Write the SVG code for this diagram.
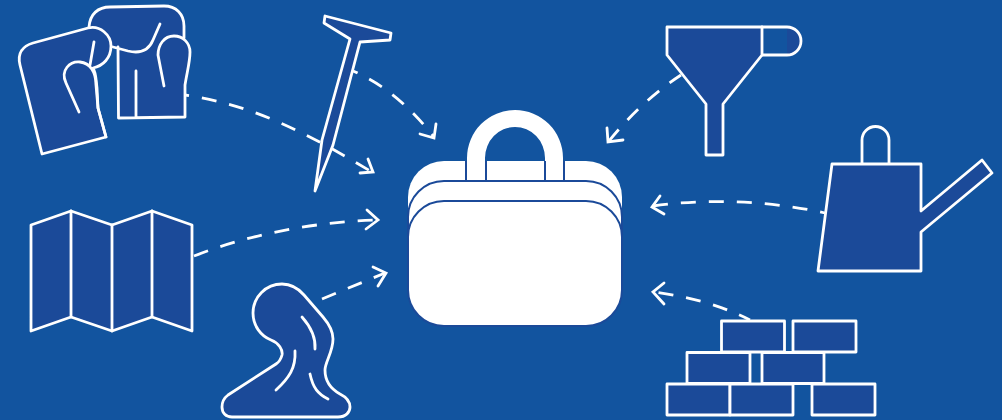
<svg xmlns="http://www.w3.org/2000/svg" width="1002" height="420" viewBox="0 0 1002 420">
<style>
.n{fill:#1b4a99;stroke:#fff;stroke-width:2.8;stroke-linejoin:round;stroke-linecap:round}
.f{fill:#1b4a99;stroke:none}
.l{fill:none;stroke:#fff;stroke-width:2.8;stroke-linejoin:round;stroke-linecap:round}
.c{fill:none;stroke:#fff;stroke-width:2.8;stroke-dasharray:15 13}
.a{fill:none;stroke:#fff;stroke-width:2.8;stroke-linecap:round;stroke-linejoin:miter}
.b{fill:#fff;stroke:#1b4a99;stroke-width:2}
.h{fill:none;stroke:#1b4a99;stroke-width:2}
</style>
<rect width="1002" height="420" fill="#12549f"/>
<g id="connectors">
<path class="c" stroke-dashoffset="11" d="M185 95C255 105 310 135 372 172"/><path class="a" d="M360 173L373 172L368 159"/>
<path class="c" stroke-dashoffset="10" d="M353 71C385 85 410 107 434 137"/><path class="a" d="M420 134L434 138L436 124"/>
<path class="c" d="M194 256C250 234 315 222 377 220"/><path class="a" d="M367 210L378 220L366 229"/>
<path class="c" d="M322 299L385 273"/><path class="a" d="M373 267L386 273L378 286"/>
<path class="c" stroke-dashoffset="1" d="M681 75C655 92 630 115 609 141"/><path class="a" d="M607 128L608 142L623 140"/>
<path class="c" stroke-dashoffset="10" d="M825 213C770 201 710 198 653 206"/><path class="a" d="M660 196L652 207L664 214"/>
<path class="c" stroke-dashoffset="3" d="M750 320C720 305 690 297 654 292"/><path class="a" d="M664 283L653 292L664 304"/>
</g>
<g id="gloves">
<path class="f" d="M89 27C90 14 98 7 110 7L164 6C176 6 184 14 184 26V40L190 52L185 85V117L118 118V47L89 40Z"/>
<path class="l" d="M89 27C90 14 98 7 110 7L164 6C176 6 184 14 184 26V38M113 47L128 51C141 54 149 50 153 40L160 24M118 47L118.500 118L185 117L185 85C187 72 190 62 190 52C190 43 183 36 174 36C164 36 158 45 158 55L164 86M136 71L136 117"/>
<path class="n" d="M42 154L20 65C17 53 23 46 33 43L88 28C100 25 111 35 111 46C111 58 103 66 93 68C96 72 96 80 97 88L98 108L106 137Z"/>
<path class="l" d="M94 42L90 65M79 112L66 83C60 70 70 61 80 62C90 63 96 72 96 85L98 108L106 137"/>
</g>
<g id="nail">
<path class="n" d="M325 16L391 33L390 40L360 42L333 145L315 191L322 140L350 39L324 23Z"/>
</g>
<g id="map">
<path class="n" d="M31 225L71 211L112 225L152 211L192 225L192 331L152 317L112 331L71 317L31 331Z"/>
<path class="l" d="M71 211V317M112 225V331M152 211V317"/>
</g>
<g id="blob">
<path class="n" d="M232 417L338 417C346 417 350 412 350 407C350 401 346 397 340 394C331 389 325 381 325 370C325 362 333 352 333 339C333 331 329 324 323 317L304 295C298 288 291 284 282 284C266 284 253 297 253 313C253 326 261 336 271 340C279 343 283 350 282 355C281 359 279 362 276 364L228 395C224 398 222 402 222 407C222 413 226 417 232 417Z"/>
<path class="l" d="M302 317C310 326 316 336 315 349M295 351C296 368 289 378 276 390M310 374C313 388 318 394 328 399"/>
</g>
<g id="bag">
<path d="M444 161H586A36 36 0 0 1 622 197V262H408V197A36 36 0 0 1 444 161Z" fill="#fff"/>
<path d="M467 181V158A48 48 0 0 1 563 158V181H545V158A30 31 0 0 0 485 158V181Z" fill="#fff"/>
<path class="h" d="M466 161V181M486 161V181M545 161V181M564 161V181"/>
<path class="b" d="M444 181H586A36 36 0 0 1 622 217V282A36 36 0 0 1 586 318H444A36 36 0 0 1 408 282V217A36 36 0 0 1 444 181Z"/>
<path class="b" d="M444 201H586A36 36 0 0 1 622 237V290A36 36 0 0 1 586 326H444A36 36 0 0 1 408 290V237A36 36 0 0 1 444 201Z"/>
</g>
<g id="funnel">
<path class="f" d="M787 27A14 14 0 0 1 787 55Z"/>
<path class="l" d="M762 27H787A14 14 0 0 1 787 55H762"/>
<path class="n" d="M667 27H762V55L723 104V155H706V104L667 55Z"/>
</g>
<g id="can">
<path class="l" d="M862 164V140A13.500 13.500 0 0 1 889 140V164"/>
<path class="n" d="M832 164H921V211L982 160L992 173L921 232V271H818Z"/>
</g>
<g id="bricks">
<rect class="n" x="721.500" y="321" width="63" height="31"/>
<rect class="n" x="793" y="321" width="63" height="31"/>
<rect class="n" x="687" y="352.500" width="63" height="31"/>
<rect class="n" x="762" y="352.500" width="62" height="31"/>
<rect class="n" x="667" y="384" width="63" height="31"/>
<rect class="n" x="730" y="384" width="63" height="31"/>
<rect class="n" x="812" y="384" width="63" height="31"/>
</g>
</svg>
